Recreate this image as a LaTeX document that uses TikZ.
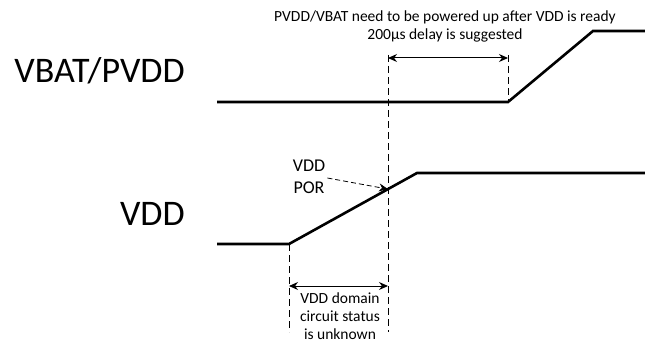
\documentclass[tikz,border=0pt]{standalone}
\usepackage{fontspec}
\setmainfont{Carlito}
\usepackage{xcolor}
\definecolor{ink}{RGB}{0,0,0}
\usepackage{tikz}
\usetikzlibrary{
    arrows.meta,
    positioning,
    calc
}

\tikzset{
    signal/.style={ink, line width=2.6pt, line join=miter},
    guide/.style={ink, line width=0.8pt, dash pattern=on 7pt off 4pt},
    span/.style={ink, line width=1pt, {Stealth[length=9pt,width=8pt]}-{Stealth[length=9pt,width=8pt]}},
    pointer/.style={ink, line width=0.8pt, dash pattern=on 5pt off 3pt, -{Stealth[length=9pt,width=8pt]}},
    biglabel/.style={font=\fontsize{36}{42}\selectfont, anchor=base east, inner sep=0pt},
    note/.style={font=\fontsize{15.5}{18}\selectfont, align=center, inner sep=0pt}
}

\begin{document}
\begin{tikzpicture}[x=1pt, y=-1pt]
        \useasboundingbox (0,0) rectangle (645,345);
        % signal labels
        \node[biglabel] (lblbat) at (185,82) {VBAT/PVDD};
        \node[biglabel] (lblvdd) at (185,225) {VDD};
        % VBAT/PVDD waveform
        \coordinate (b0) at (217,102);
        \coordinate (b1) at (508,102);
        \coordinate (b2) at (593,31);
        \coordinate (b3) at (645,31);
        \draw[signal] (b0) -- (b1) -- (b2) -- (b3);
        % VDD waveform
        \coordinate (v0) at (217,244);
        \coordinate (v1) at (289,244);
        \coordinate (v2) at (417,173);
        \coordinate (v3) at (645,173);
        \draw[signal] (v0) -- (v1) -- (v2) -- (v3);
        \coordinate (por) at ($(v1)!{99/128}!(v2)$);
        % timing guides
        \coordinate (gtop) at (388,55);
        \coordinate (gbot) at (388,332);
        \coordinate (btop) at (508,55);
        \coordinate (vbot) at (289,332);
        \draw[guide] (gtop) -- (gbot);
        \draw[guide] (btop) -- (b1);
        \draw[guide] (v1) -- (vbot);
        % delay spans
        \coordinate (d0) at (388,58);
        \coordinate (d1) at (508,58);
        \draw[span] (d0) -- (d1);
        \coordinate (u0) at (289,286);
        \coordinate (u1) at (388,286);
        \draw[span] (u0) -- (u1);
        % notes
        \node[note] (delaynote) at (445,26) {PVDD/VBAT need to be powered up after VDD is ready\\200µs delay is suggested};
        \node[note] (unknown) at (340,316) {VDD domain\\circuit status\\is unknown};
        \node[font=\fontsize{18}{22}\selectfont, align=center, inner sep=0pt] (porlbl) at (309,177) {VDD\\POR};
        \draw[pointer] ($(porlbl.east)+(2,1)$) -- (por);
    \end{tikzpicture}
\end{document}
